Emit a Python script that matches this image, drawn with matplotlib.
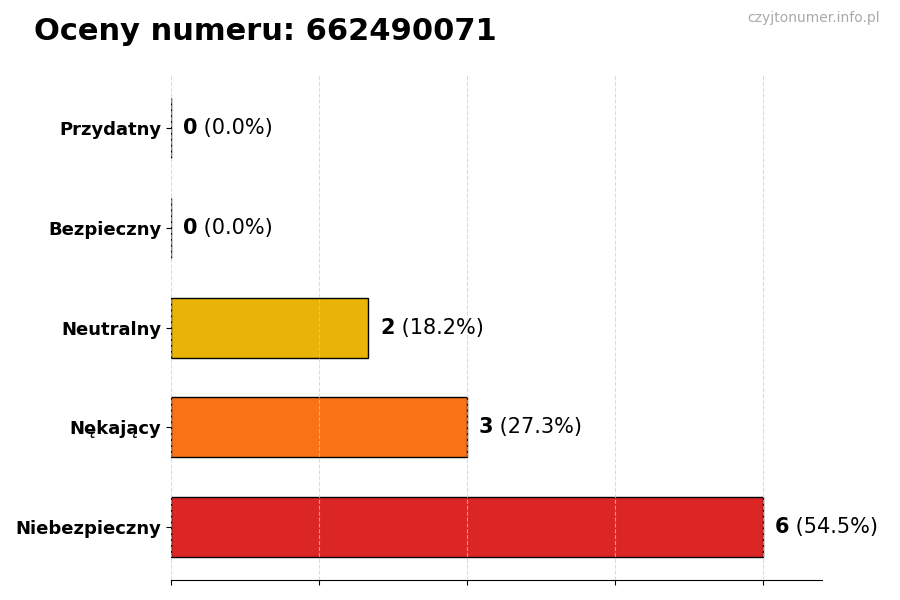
import numpy as np
import matplotlib
matplotlib.use('Agg')
import matplotlib.pyplot as plt

# data
categories = ['Niebezpieczny', 'Nękający', 'Neutralny', 'Bezpieczny', 'Przydatny']
counts = [6, 3, 2, 0, 0]
colors = ['#DC2626', '#F97316', '#EAB308', '#3B82F6', '#22C55E']
phone = '662490071'

total = sum(counts)
pos = np.arange(len(categories))

fig = plt.figure(figsize=(9, 6), dpi=100)
ax = fig.add_axes([0.19, 0.033, 0.723, 0.842])

ax.barh(pos, counts, height=0.6, color=colors, edgecolor='black', linewidth=1)

xmax = max(counts) * 1.1
ax.set_xlim(0, xmax)
ax.set_xticks(np.arange(0, xmax, 1.5))
ax.set_xticklabels([])
ax.set_yticks(pos)
ax.set_yticklabels(categories, fontsize=13, fontweight='bold')
ax.grid(axis='x', linestyle='--', color='#cccccc', alpha=0.7)

for s in ['top', 'right', 'left']:
    ax.spines[s].set_visible(False)

# value labels: bold count then the share in normal weight
for y, c in zip(pos, counts):
    pct = c / total * 100
    t = ax.text(c + max(counts) * 0.02, y, str(c), va='center', ha='left',
                fontsize=15, fontweight='bold')
    ax.annotate(' (%.1f%%)' % pct, xy=(1, 0.5), xycoords=t,
                va='center', ha='left', fontsize=15)

fig.text(0.038, 0.948, 'Oceny numeru: ' + phone, ha='left', va='center',
         fontsize=22, fontweight='bold')
fig.text(0.978, 0.97, 'czyjtonumer.info.pl', ha='right', va='center',
         fontsize=10, color='#aaaaaa')

plt.savefig('out.png', dpi=100)
